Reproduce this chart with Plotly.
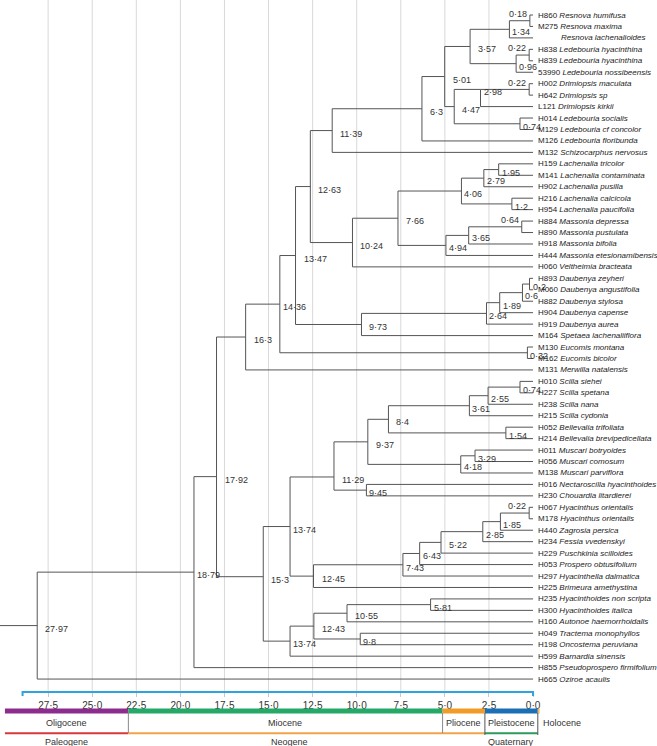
import plotly.graph_objects as go

# ---------------- data ----------------
tip_codes = ["H860", "M275", "", "H838", "H839", "53990", "H002", "H642", "L121", "H014", "M129", "M126", "M132",
             "H159", "M141", "H902", "H216", "H954", "H884", "H890", "H918", "H444", "H060",
             "H893", "M060", "H882", "H904", "H919", "M164", "M130", "M162", "M131",
             "H010", "H227", "H238", "H215", "H052", "H214", "H011", "H056", "M138", "H016", "H230",
             "H067", "M178", "H440", "H234", "H229", "H053", "H297", "H225", "H235", "H300", "H160",
             "H049", "H198", "H599", "H855", "H665"]
tip_species = ["Resnova humifusa", "Resnova maxima", "Resnova lachenalioides", "Ledebouria hyacinthina",
               "Ledebouria hyacinthina", "Ledebouria nossibeensis", "Drimiopsis maculata", "Drimiopsis sp",
               "Drimiopsis kirkii", "Ledebouria socialis", "Ledebouria cf concolor", "Ledebouria floribunda",
               "Schizocarphus nervosus",
               "Lachenalia tricolor", "Lachenalia contaminata", "Lachenalia pusilla", "Lachenalia calcicola",
               "Lachenalia paucifolia", "Massonia depressa", "Massonia pustulata", "Massonia bifolia",
               "Massonia etesionamibensis", "Veltheimia bracteata",
               "Daubenya zeyheri", "Daubenya angustifolia", "Daubenya stylosa", "Daubenya capense",
               "Daubenya aurea", "Spetaea lachenaliiflora", "Eucomis montana", "Eucomis bicolor",
               "Merwilla natalensis",
               "Scilla siehei", "Scilla spetana", "Scilla nana", "Scilla cydonia", "Bellevalia trifoliata",
               "Bellevalia brevipedicellata", "Muscari botryoides", "Muscari comosum", "Muscari parviflora",
               "Nectaroscilla hyacinthoides", "Chouardia litardierei",
               "Hyacinthus orientalis", "Hyacinthus orientalis", "Zagrosia persica", "Fessia vvedenskyi",
               "Puschkinia scilloides", "Prospero obtusifolium", "Hyacinthella dalmatica",
               "Brimeura amethystina", "Hyacinthoides non scripta", "Hyacinthoides italica",
               "Autonoe haemorrhoidalis", "Tractema monophyllos", "Oncostema peruviana",
               "Barnardia sinensis", "Pseudoprospero firmifolium", "Oziroe acaulis"]

node_ids = ["n%02d" % i for i in range(1, 59)]
node_labels = ["0·18", "1·34", "0·22", "0·96", "3·57", "0·22", "2·98", "0·74", "4·47", "5·01", "6·3", "11·39",
               "1·95", "2·79", "1·2", "4·06", "0·64", "3·65", "4·94", "7·66", "10·24", "12·63",
               "0·2", "0·6", "1·89", "2·64", "9·73", "13·47", "0·32", "14·36", "16·3",
               "0·74", "2·55", "3·61", "1·54", "8·4", "3·29", "4·18", "9·37", "9·45", "11·29",
               "0·22", "1·85", "2·85", "5·22", "6·43", "7·43", "12·45", "13·74",
               "5·81", "10·55", "9·8", "12·43", "13·74", "15·3", "17·92", "18·79", "27·97"]
# node ages (Ma) as drawn in the picture
node_ages = [0.18, 1.34, 0.22, 0.96, 3.57, 0.22, 2.98, 0.74, 4.47, 5.01, 6.3, 11.39,
             1.95, 2.79, 1.2, 4.06, 0.64, 3.65, 4.94, 7.66, 10.24, 12.63,
             0.2, 0.6, 1.89, 2.64, 9.73, 13.47, 0.32, 14.36, 16.3,
             0.74, 2.55, 3.61, 1.54, 8.2, 3.29, 4.1, 9.37, 9.45, 11.29,
             0.22, 1.85, 2.85, 5.22, 6.43, 7.38, 12.45, 13.78,
             5.81, 10.55, 9.8, 12.43, 13.78, 15.3, 17.95, 19.23, 28.12]
node_children = [("t1", "t2"), ("n01", "t3"), ("t4", "t5"), ("n03", "t6"), ("n02", "n04"), ("t7", "t8"),
                 ("n06", "t9"), ("t10", "t11"), ("n07", "n08"), ("n05", "n09"), ("n10", "t12"), ("n11", "t13"),
                 ("t14", "t15"), ("n13", "t16"), ("t17", "t18"), ("n14", "n15"), ("t19", "t20"), ("n17", "t21"),
                 ("n18", "t22"), ("n16", "n19"), ("n20", "t23"), ("n12", "n21"),
                 ("t24", "t25"), ("n23", "t26"), ("n24", "t27"), ("n25", "t28"), ("n26", "t29"), ("n22", "n27"),
                 ("t30", "t31"), ("n28", "n29"), ("n30", "t32"),
                 ("t33", "t34"), ("n32", "t35"), ("n33", "t36"), ("t37", "t38"), ("n34", "n35"), ("t39", "t40"),
                 ("n37", "t41"), ("n36", "n38"), ("t42", "t43"), ("n39", "n40"),
                 ("t44", "t45"), ("n42", "t46"), ("n43", "t47"), ("n44", "t48"), ("n45", "t49"), ("n46", "t50"),
                 ("n47", "t51"), ("n41", "n48"),
                 ("t52", "t53"), ("n50", "t54"), ("t55", "t56"), ("n51", "n52"), ("n53", "t57"), ("n49", "n54"),
                 ("n31", "n55"), ("n56", "t58"), ("n57", "t59")]
node_row_read = {"n07": 7.5, "n41": 41.35, "n55": 50.06, "n56": 41.32}

tick_vals = [27.5, 25.0, 22.5, 20.0, 17.5, 15.0, 12.5, 10.0, 7.5, 5.0, 2.5, 0.0]
tick_text = ["27·5", "25·0", "22·5", "20·0", "17·5", "15·0", "12·5", "10·0", "7·5", "5·0", "2·5", "0·0"]

epoch_names = ["Oligocene", "Miocene", "Pliocene", "Pleistocene", "Holocene"]
epoch_start = [29.95, 22.95, 5.13, 2.73, -0.27]
epoch_end = [22.95, 5.13, 2.73, -0.27, -0.37]
period_names = ["Paleogene", "Neogene", "Quaternary"]
period_start = [29.95, 22.95, 2.73]
period_end = [22.95, 2.73, -0.27]
period_label_age = [26.45, 13.8, 1.23]
axis_start_age = 28.95

# ---------------- styles ----------------
W, H = 657, 746
X_LEFT, X_RIGHT = 30.23, -7.03
PLOT_BOTTOM = 692
FONT = "Liberation Sans, Arial, Helvetica, sans-serif"
LINE_COL = "#555555"
epoch_colors = ["#8c2d8e", "#25a968", "#f29b26", "#1b6fb5", "#f6b25d"]
period_colors = ["#d8383c", "#f0a449", "#2b9a5b"]
AXIS_BLUE = "#2ea3dc"


def py(px):
    return 1 - px / H


# ---------------- layout of tree ----------------
row = {}
age = {}
for i in range(len(tip_codes)):
    row["t%d" % (i + 1)] = i + 1
    age["t%d" % (i + 1)] = 0.0
for nid, a, (c1, c2) in zip(node_ids, node_ages, node_children):
    age[nid] = a
    row[nid] = node_row_read.get(nid, (row[c1] + row[c2]) / 2)

xs, ys = [], []
for nid, (c1, c2) in zip(node_ids, node_children):
    a = age[nid]
    xs += [a, a, None]
    ys += [row[c1], row[c2], None]
    for c in (c1, c2):
        xs += [a, age[c], None]
        ys += [row[c], row[c], None]
root = node_ids[-1]
xs += [X_LEFT, age[root], None]
ys += [row[root], row[root], None]

fig = go.Figure()
fig.add_trace(go.Scatter(x=xs, y=ys, mode="lines", line=dict(color=LINE_COL, width=1),
                         hoverinfo="skip", showlegend=False, cliponaxis=False))

annotations = []
left_labels = {"n01", "n03", "n06", "n17", "n42"}
wide_gap = {"n05", "n09", "n10", "n11", "n12", "n20", "n21", "n22", "n27", "n28", "n31", "n36",
            "n39", "n41", "n45", "n48", "n51", "n53", "n55", "n56", "n58"}
for nid, lab, (c1, c2) in zip(node_ids, node_labels, node_children):
    if nid in left_labels:
        annotations.append(dict(x=age[nid], y=row[c1], xref="x", yref="y", text=lab, showarrow=False,
                                xanchor="right", yanchor="middle", xshift=-1, yshift=1,
                                font=dict(size=9, color="#333", family=FONT)))
    else:
        annotations.append(dict(x=age[nid], y=row[nid], xref="x", yref="y", text=lab, showarrow=False,
                                xanchor="left", yanchor="middle",
                                xshift=6 if nid in wide_gap else 1, yshift=-3,
                                font=dict(size=9, color="#333", family=FONT)))

for i, (code, sp) in enumerate(zip(tip_codes, tip_species)):
    txt = (code + " <i>" + sp + "</i>") if code else "<i>" + sp + "</i>"
    annotations.append(dict(x=0, y=i + 1, xref="x", yref="y", text=txt, showarrow=False,
                            xanchor="left", yanchor="middle", xshift=3 if code else 26,
                            font=dict(size=8, color="#222", family=FONT)))

shapes = []
# grid lines
for v in tick_vals:
    if v == 0:
        continue
    shapes.append(dict(type="line", xref="x", yref="paper", x0=v, x1=v, y0=py(0), y1=py(PLOT_BOTTOM),
                       line=dict(color="#d9d9d9", width=1), layer="below"))
# blue axis line
shapes.append(dict(type="path", xref="x", yref="paper",
                   path="M %f,%f L %f,%f L %f,%f L %f,%f" % (axis_start_age, py(PLOT_BOTTOM + 4),
                                                             axis_start_age, py(PLOT_BOTTOM),
                                                             0, py(PLOT_BOTTOM), 0, py(PLOT_BOTTOM + 4)),
                   line=dict(color=AXIS_BLUE, width=2)))
# epochs
for name, s, e, c in zip(epoch_names, epoch_start, epoch_end, epoch_colors):
    shapes.append(dict(type="rect", xref="x", yref="paper", x0=s, x1=e, y0=py(713.5), y1=py(708.5),
                       fillcolor=c, line=dict(width=0)))
    if name == "Holocene":
        annotations.append(dict(x=e, y=py(722.5), xref="x", yref="paper", text=name, showarrow=False,
                                xanchor="left", yanchor="middle", xshift=1,
                                font=dict(size=9, color="#333", family=FONT)))
    else:
        annotations.append(dict(x=(s + e) / 2, y=py(722.5), xref="x", yref="paper", text=name,
                                showarrow=False, xanchor="center", yanchor="middle",
                                font=dict(size=9, color="#333", family=FONT)))
# periods
for name, s, e, c, la in zip(period_names, period_start, period_end, period_colors, period_label_age):
    shapes.append(dict(type="line", xref="x", yref="paper", x0=s, x1=e, y0=py(733.3), y1=py(733.3),
                       line=dict(color=c, width=2)))
    annotations.append(dict(x=la, y=py(741.5), xref="x", yref="paper", text=name, showarrow=False,
                            xanchor="center", yanchor="middle",
                            font=dict(size=9, color="#333", family=FONT)))
# dividers
div_ages = epoch_start[1:4] + [epoch_end[3]]
div_tops = [711, 713, 713, 713]
div_bots = [733, 733, 735, 735]
div_cols = ["#888", "#888", "#555", "#555"]
for a, t, b, c in zip(div_ages, div_tops, div_bots, div_cols):
    shapes.append(dict(type="line", xref="x", yref="paper", x0=a, x1=a, y0=py(t), y1=py(b),
                       line=dict(color=c, width=1)))

fig.update_layout(
    width=W, height=H,
    margin=dict(l=0, r=0, t=0, b=0),
    paper_bgcolor="white", plot_bgcolor="white",
    hovermode=False,
    showlegend=False,
    xaxis=dict(range=[X_LEFT, X_RIGHT], domain=[0, 1], anchor="y",
               showgrid=False, zeroline=False, showline=False,
               tickmode="array", tickvals=tick_vals, ticktext=tick_text,
               ticks="outside", ticklen=4, tickwidth=1, tickcolor="#c8c8c8",
               tickfont=dict(size=10, color="#333", family=FONT), fixedrange=True),
    yaxis=dict(range=[60.13, -0.31], domain=[1 - PLOT_BOTTOM / H, 1], visible=False,
               showgrid=False, zeroline=False, fixedrange=True),
    shapes=shapes,
    annotations=annotations,
)

fig.write_html("out.html", config={"displayModeBar": False},
               post_script="document.body.style.margin='0';document.body.style.overflow='hidden';")
